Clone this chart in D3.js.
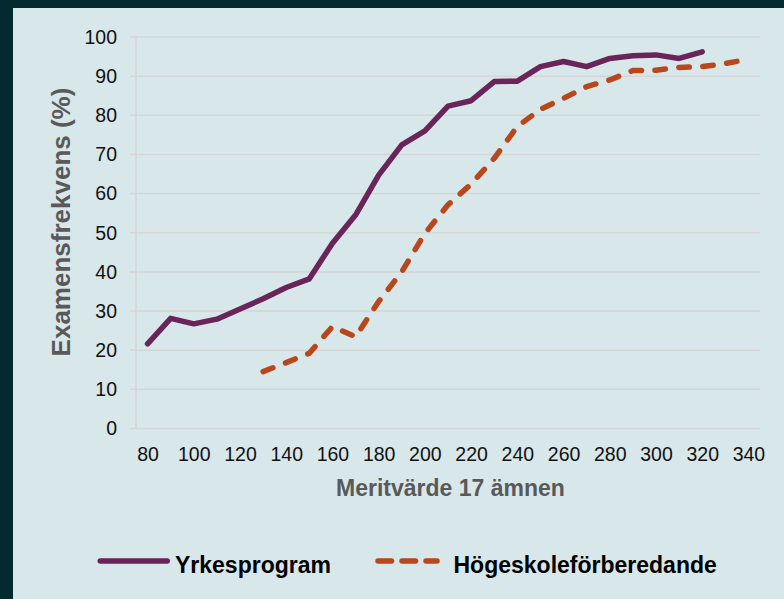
<!DOCTYPE html>
<html>
<head>
<meta charset="utf-8">
<script src="https://cdn.jsdelivr.net/npm/d3@7"></script>
<style>
  html, body { margin: 0; padding: 0; background: #032A31; }
  svg { display: block; }
  text { font-family: "Liberation Sans", Arial, sans-serif; }
</style>
</head>
<body>
<svg id="chart" width="784" height="599"></svg>
<script>
// ---- data ----
const categories = [80, 90, 100, 110, 120, 130, 140, 150, 160, 170, 180, 190, 200, 210, 220, 230, 240, 250, 260, 270, 280, 290, 300, 310, 320, 330, 340];
const tickLabels = ["80", "100", "120", "140", "160", "180", "200", "220", "240", "260", "280", "300", "320", "340"];
const yTicks = [0, 10, 20, 30, 40, 50, 60, 70, 80, 90, 100];
const seriesNames = ["Yrkesprogram", "Högeskoleförberedande"];
const yrkesprogram = [21.5, 28.0, 26.6, 27.8, 30.4, 33.0, 35.9, 38.1, 47.2, 54.4, 64.6, 72.3, 75.9, 82.2, 83.6, 88.5, 88.6, 92.3, 93.6, 92.3, 94.4, 95.1, 95.3, 94.4, 96.1, null, null];
const hogskole = [null, null, null, null, null, 14.4, 16.7, 19.1, 25.9, 23.3, 32.3, 39.9, 49.7, 57.0, 62.3, 68.9, 77.0, 81.4, 84.2, 87.2, 88.9, 91.3, 91.4, 92.1, 92.3, 93.1, 94.2];
const xTitle = "Meritvärde 17 ämnen";
const yTitle = "Examensfrekvens (%)";

// ---- layout ----
const W = 784, H = 599;
const plot = { left: 136, right: 760, top: 36.5, bottom: 428 };
const colors = { purple: "#69245A", orange: "#B8471C", grid: "#D5D5D5", bg: "#D8E7EA", frame: "#032A31" };

const svg = d3.select("#chart");
svg.append("rect").attr("x", 0).attr("y", 0).attr("width", W).attr("height", H).attr("fill", colors.frame);
svg.append("rect").attr("x", 13).attr("y", 8).attr("width", W - 13).attr("height", H - 8).attr("fill", colors.bg);

const x = d3.scalePoint().domain(categories).range([plot.left, plot.right]).padding(0.5);
const y = d3.scaleLinear().domain([0, 100]).range([plot.bottom, plot.top]);

// y axis with gridlines
const gAxis = svg.append("g").attr("transform", `translate(${plot.left},0)`)
  .call(d3.axisLeft(y).tickValues(yTicks).tickSizeInner(6).tickSizeOuter(0).tickPadding(13).tickFormat(d3.format("d")));
gAxis.select(".domain").remove();
gAxis.selectAll(".tick line").attr("x1", -6).attr("x2", plot.right - plot.left).attr("stroke", colors.grid).attr("stroke-width", 1.5);
gAxis.selectAll(".tick text").attr("font-size", "19.5px").attr("fill", "#111").attr("x", -19).attr("dy", "0.35em")
  .style("font-family", "'Liberation Sans', Arial, sans-serif");

// vertical axis line
svg.append("line").attr("x1", plot.left).attr("x2", plot.left).attr("y1", plot.top - 0.75).attr("y2", plot.bottom)
  .attr("stroke", colors.grid).attr("stroke-width", 1.5);

// x axis labels (every other category)
const gx = svg.append("g").attr("transform", `translate(0,${plot.bottom})`)
  .call(d3.axisBottom(x).tickValues(tickLabels.map(Number)).tickSize(0).tickPadding(0).tickFormat(d => String(d)));
gx.select(".domain").remove();
gx.selectAll(".tick text").attr("font-size", "19.5px").attr("fill", "#111").attr("y", 32.5).attr("dy", 0)
  .style("font-family", "'Liberation Sans', Arial, sans-serif");

// lines
const line = d3.line().defined(d => d[1] != null).x(d => x(d[0])).y(d => y(d[1]));
svg.append("path").datum(categories.map((c, i) => [c, yrkesprogram[i]]))
  .attr("d", line).attr("fill", "none").attr("stroke", colors.purple).attr("stroke-width", 5.5)
  .attr("stroke-linejoin", "round").attr("stroke-linecap", "round");
svg.append("path").datum(categories.map((c, i) => [c, hogskole[i]]))
  .attr("d", line).attr("fill", "none").attr("stroke", colors.orange).attr("stroke-width", 5.5)
  .attr("stroke-linejoin", "round").attr("stroke-linecap", "round").attr("stroke-dasharray", "10.5,13.5");

// axis titles
svg.append("text").attr("x", 450.5).attr("y", 496).attr("text-anchor", "middle")
  .attr("font-size", "23px").attr("font-weight", "bold").attr("fill", "#595959").text(xTitle);
svg.append("text").attr("transform", "translate(70,222) rotate(-90)").attr("text-anchor", "middle")
  .attr("font-size", "26px").attr("font-weight", "bold").attr("fill", "#595959").text(yTitle);

// legend
const lg = svg.append("g");
lg.append("line").attr("x1", 100.25).attr("x2", 167.25).attr("y1", 561).attr("y2", 561)
  .attr("stroke", colors.purple).attr("stroke-width", 5.5).attr("stroke-linecap", "round");
lg.append("text").attr("x", 175).attr("y", 573).attr("font-size", "23px").attr("font-weight", "bold").attr("fill", "#000").text(seriesNames[0]);
lg.append("line").attr("x1", 378).attr("x2", 437).attr("y1", 561).attr("y2", 561)
  .attr("stroke", colors.orange).attr("stroke-width", 5.5).attr("stroke-linecap", "round").attr("stroke-dasharray", "13.5,10.5");
lg.append("text").attr("x", 453.5).attr("y", 573).attr("font-size", "23px").attr("font-weight", "bold").attr("fill", "#000").text(seriesNames[1]);
</script>
</body>
</html>
